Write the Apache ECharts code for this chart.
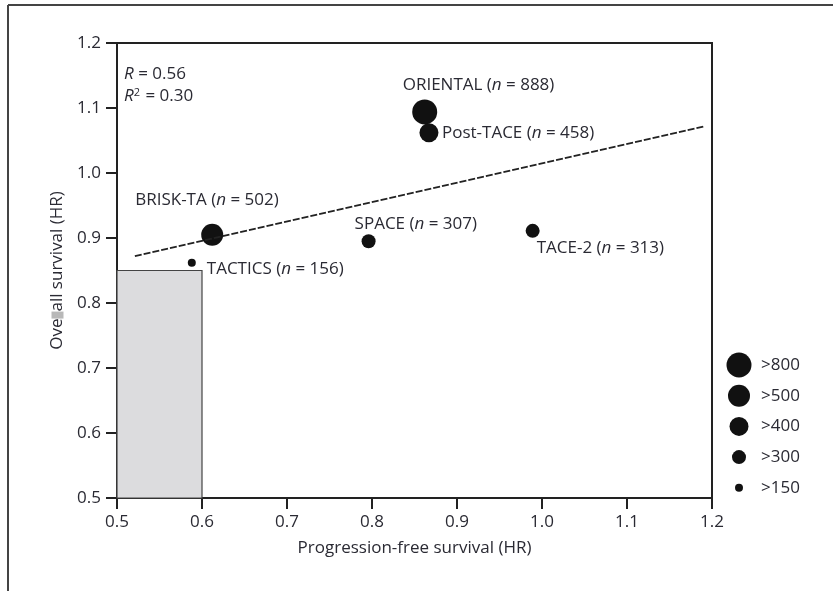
<!DOCTYPE html>
<html>
<head>
<meta charset="utf-8">
<script src="https://cdn.jsdelivr.net/npm/echarts@6/dist/echarts.min.js"></script>
<style>html,body{margin:0;padding:0;background:#fff;}#c{width:833px;height:591px;}</style>
</head>
<body>
<div id="c"></div>
<script>
// ---- data ----
var studies = ['ORIENTAL', 'Post-TACE', 'BRISK-TA', 'TACTICS', 'SPACE', 'TACE-2'];
var nPatients = [888, 458, 502, 156, 307, 313];
var pfsHR = [0.862, 0.867, 0.612, 0.588, 0.796, 0.989];
var osHR = [1.094, 1.062, 0.905, 0.862, 0.895, 0.911];
var fitLineX = [0.521, 1.192];
var fitLineY = [0.872, 1.072];
var shadedBox = { x0: 0.5, x1: 0.6, y0: 0.5, y1: 0.85 };
var legendThresholds = [800, 500, 400, 300, 150];
var xTicks = [0.5, 0.6, 0.7, 0.8, 0.9, 1.0, 1.1, 1.2];
var yTicks = [0.5, 0.6, 0.7, 0.8, 0.9, 1.0, 1.1, 1.2];

// ---- styling ----
var legendSizes = [25, 22, 19, 14, 8];
var labelOffsets = {
  'ORIENTAL': [-22, -27], 'Post-TACE': [13, 0], 'BRISK-TA': [-77, -35],
  'TACTICS': [15, 6], 'SPACE': [-14, -17], 'TACE-2': [4, 17]
};
var FONT = 'Open Sans';
var FS = 17;
var TXT = '#2a2a33';
function sizeFor(n) {
  for (var i = 0; i < legendThresholds.length; i++) if (n > legendThresholds[i]) return legendSizes[i];
  return legendSizes[legendSizes.length - 1];
}

var pts = studies.map(function (s, i) {
  return {
    name: s, value: [pfsHR[i], osHR[i], nPatients[i]],
    symbolSize: sizeFor(nPatients[i]),
    label: { offset: labelOffsets[s] }
  };
});

var legendGraphics = [];
var legTop = 365, legStep = 30.7;
legendThresholds.forEach(function (t, i) {
  var cy = legTop + i * legStep;
  legendGraphics.push({ type: 'circle', shape: { cx: 739, cy: cy, r: legendSizes[i] / 2 }, style: { fill: '#111' } });
  legendGraphics.push({ type: 'text', x: 761, y: cy, style: { text: '>' + t, font: FS + 'px "' + FONT + '"', fill: TXT, textVerticalAlign: 'middle' } });
});

var chart = echarts.init(document.getElementById('c'));
chart.setOption({
  animation: false,
  backgroundColor: '#fff',
  grid: { left: 117, top: 43, right: 121, bottom: 93, show: true, borderColor: '#222', borderWidth: 2, backgroundColor: 'transparent' },
  xAxis: {
    type: 'value', min: xTicks[0], max: xTicks[xTicks.length - 1], interval: 0.1,
    name: 'Progression-free survival (HR)', nameLocation: 'middle', nameGap: 42,
    nameTextStyle: { fontFamily: FONT, fontSize: FS, color: TXT },
    axisLine: { show: true, lineStyle: { color: '#222', width: 2 } },
    axisTick: { show: true, length: 11, lineStyle: { color: '#222', width: 2 } },
    axisLabel: { fontFamily: FONT, fontSize: FS, color: TXT, margin: 16, formatter: function (v) { return v.toFixed(1); } },
    splitLine: { show: false }
  },
  yAxis: {
    type: 'value', min: yTicks[0], max: yTicks[yTicks.length - 1], interval: 0.1,
    name: 'Ove{g| }all survival (HR)', nameLocation: 'middle', nameGap: 51,
    nameTextStyle: { fontFamily: FONT, fontSize: FS, color: TXT,
      rich: { g: { backgroundColor: '#b8b8b8', width: 7, height: 12, fontSize: FS } } },
    axisLine: { show: true, lineStyle: { color: '#222', width: 2 } },
    axisTick: { show: true, length: 11, lineStyle: { color: '#222', width: 2 } },
    axisLabel: { fontFamily: FONT, fontSize: FS, color: TXT, margin: 16, formatter: function (v) { return v.toFixed(1); } },
    splitLine: { show: false }
  },
  series: [
    {
      type: 'line', data: [[shadedBox.x0, shadedBox.y0]], symbol: 'none', silent: true,
      markArea: {
        silent: true,
        itemStyle: { color: '#dcdcde', borderColor: '#444', borderWidth: 1.2 },
        data: [[{ xAxis: shadedBox.x0, yAxis: shadedBox.y0 }, { xAxis: shadedBox.x1, yAxis: shadedBox.y1 }]]
      }
    },
    {
      type: 'line', data: fitLineX.map(function (x, i) { return [x, fitLineY[i]]; }),
      symbol: 'none', lineStyle: { color: '#222', width: 1.8, type: [7, 2] }
    },
    {
      type: 'scatter', data: pts,
      itemStyle: { color: '#111', opacity: 1 },
      label: {
        show: true, position: 'inside', align: 'left', verticalAlign: 'middle',
        fontFamily: FONT, fontSize: FS, color: TXT,
        formatter: function (p) { return p.name + ' ({i|n} = ' + p.value[2] + ')'; },
        rich: { i: { fontStyle: 'italic', fontFamily: FONT, fontSize: FS, color: TXT } }
      }
    }
  ],
  graphic: [
    { type: 'line', shape: { x1: 8, y1: 5, x2: 833, y2: 5 }, style: { stroke: '#444', lineWidth: 2 } },
    { type: 'line', shape: { x1: 8, y1: 5, x2: 8, y2: 591 }, style: { stroke: '#444', lineWidth: 2 } },
    { type: 'text', x: 124, y: 74, style: { text: '{i|R} = 0.56', rich: { i: { font: 'italic ' + FS + 'px "' + FONT + '"', fill: TXT } }, font: FS + 'px "' + FONT + '"', fill: TXT, textVerticalAlign: 'middle' } },
    { type: 'text', x: 124, y: 96, style: { text: '{i|R}{s|2} = 0.30', rich: { i: { font: 'italic ' + FS + 'px "' + FONT + '"', fill: TXT }, s: { font: '11px "' + FONT + '"', fill: TXT, verticalAlign: 'top', padding: [0, 1, 7, 0] } }, font: FS + 'px "' + FONT + '"', fill: TXT, textVerticalAlign: 'middle' } }
  ].concat(legendGraphics)
});
</script>
</body>
</html>
